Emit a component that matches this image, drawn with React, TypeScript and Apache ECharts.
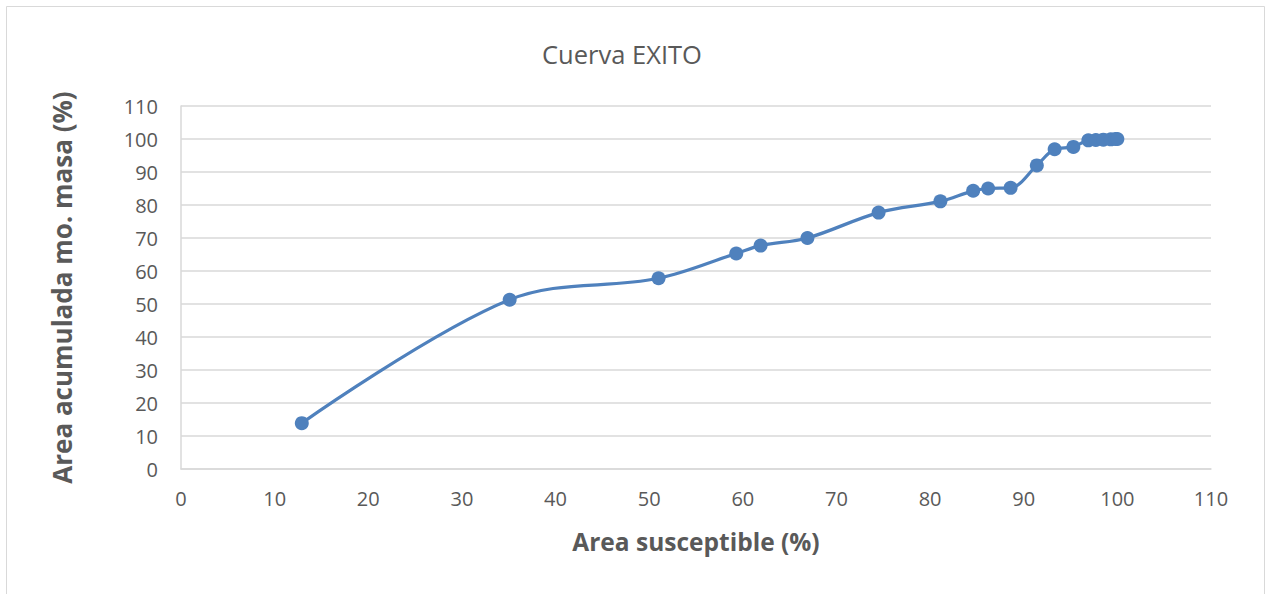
import React, { useEffect, useRef } from "react";
import * as echarts from "echarts";

const titleText = "Cuerva EXITO";
const xAxisTitle = "Area susceptible (%)";
const yAxisTitle = "Area acumulada mo. masa (%)";

const areaSusceptible = [
  12.9, 35.1, 51.0, 59.3, 61.9, 66.9, 74.5, 81.1, 84.6, 86.2, 88.6, 91.4, 93.3,
  95.3, 96.9, 97.7, 98.5, 99.3, 99.8, 100.0,
];
const areaAcumulada = [
  13.9, 51.3, 57.8, 65.3, 67.7, 70.0, 77.7, 81.1, 84.3, 85.0, 85.2, 92.0, 96.9,
  97.6, 99.6, 99.7, 99.8, 99.9, 100.0, 100.0,
];

const axisMin = 0;
const axisMax = 110;
const axisStep = 10;

export default function App() {
  const ref = useRef<HTMLDivElement>(null);
  useEffect(() => {
    if (!ref.current) return;
    const chart = echarts.init(ref.current, undefined, { renderer: "svg" });
    const font = "'Open Sans', sans-serif";
    const grey = "#595959";
    const gridGrey = "#d9d9d9";
    chart.setOption({
      animation: false,
      backgroundColor: "#ffffff",
      title: {
        text: titleText,
        left: 617,
        top: 36,
        textAlign: "center",
        textStyle: { fontFamily: font, fontSize: 25.5, fontWeight: "normal", color: grey },
      },
      graphic: [
        {
          type: "rect",
          shape: { x: 6.5, y: 6.5, width: 1258, height: 600 },
          style: { fill: "none", stroke: gridGrey, lineWidth: 1 },
          silent: true,
        },
      ],
      grid: { left: 181, right: 57, top: 106, bottom: 125 },
      xAxis: {
        type: "value",
        min: axisMin,
        max: axisMax,
        interval: axisStep,
        name: xAxisTitle,
        nameLocation: "middle",
        nameGap: 60,
        nameTextStyle: { fontFamily: font, fontSize: 24.5, fontWeight: "bold", color: grey },
        axisLine: { show: true, lineStyle: { color: gridGrey, width: 1.5 } },
        axisTick: { show: false },
        splitLine: { show: false },
        axisLabel: { fontFamily: font, fontSize: 20, color: grey, margin: 19 },
      },
      yAxis: {
        type: "value",
        min: axisMin,
        max: axisMax,
        interval: axisStep,
        name: yAxisTitle,
        nameLocation: "middle",
        nameGap: 106,
        nameRotate: 90,
        nameTextStyle: { fontFamily: font, fontSize: 26, fontWeight: "bold", color: grey },
        axisLine: { show: true, lineStyle: { color: gridGrey, width: 1.5 } },
        axisTick: { show: false },
        splitLine: { show: true, lineStyle: { color: gridGrey, width: 1.5 } },
        axisLabel: { fontFamily: font, fontSize: 20, color: grey, margin: 23 },
      },
      series: [
        {
          type: "line",
          data: areaSusceptible.map((x, i) => [x, areaAcumulada[i]]),
          smooth: 0.35,
          symbol: "circle",
          symbolSize: 14,
          lineStyle: { color: "#4F81BD", width: 3.25 },
          itemStyle: { color: "#4F81BD" },
        },
      ],
    });
    return () => chart.dispose();
  }, []);
  return (
    <div
      ref={ref}
      style={{ position: "fixed", left: 0, top: 0, width: 1268, height: 594 }}
    />
  );
}
